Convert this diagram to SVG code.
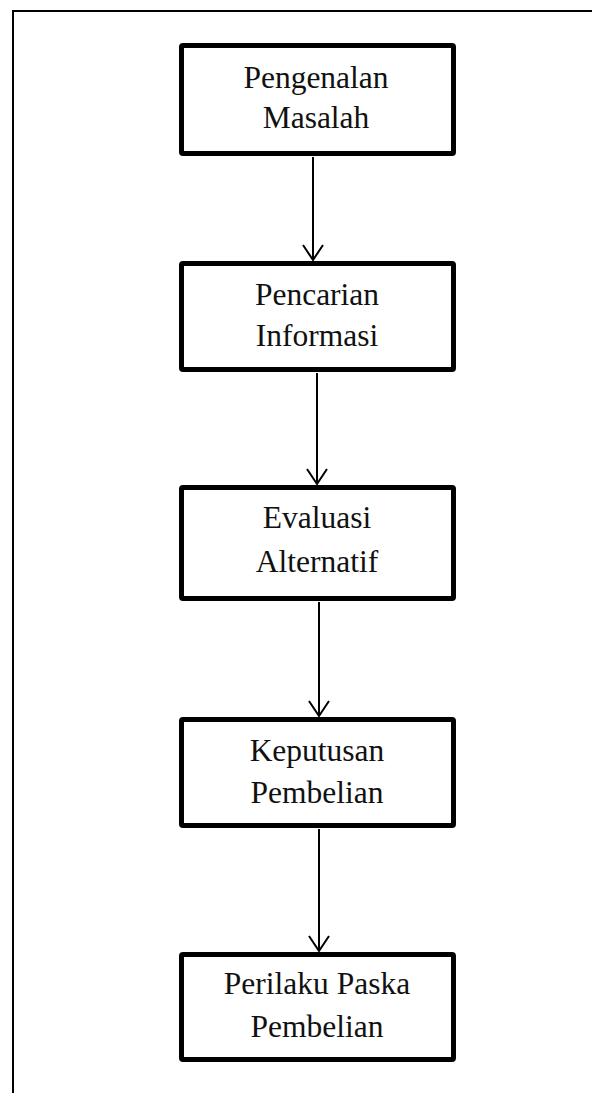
<svg xmlns="http://www.w3.org/2000/svg" width="592" height="1093" viewBox="0 0 592 1093">
<style>
.box{fill:#fff;stroke:#000;stroke-width:5}
.lbl{font-family:"Liberation Serif","Times New Roman",serif;font-size:31.5px;fill:#111;text-anchor:middle}
.conn{stroke:#000;stroke-width:2;fill:none}
.frame{stroke:#000;stroke-width:2;fill:none}
</style>
<defs>
<marker id="arr" markerUnits="userSpaceOnUse" markerWidth="40" markerHeight="40" refX="0" refY="0" orient="auto" overflow="visible">
<path d="M-15,-10 L0,0 L-15,10" fill="none" stroke="#000" stroke-width="2"/>
</marker>
</defs>
<rect width="592" height="1093" fill="#fff"/>
<path class="frame" d="M13,1093 L13,11 L592,11"/>
<g id="connectors">
<line class="conn" x1="313" y1="157" x2="313" y2="260" marker-end="url(#arr)"/>
<line class="conn" x1="317" y1="373" x2="317" y2="484" marker-end="url(#arr)"/>
<line class="conn" x1="319" y1="602" x2="319" y2="716" marker-end="url(#arr)"/>
<line class="conn" x1="319" y1="829" x2="319" y2="951" marker-end="url(#arr)"/>
</g>
<g id="node1">
<rect class="box" x="181.5" y="45.5" width="272" height="108" rx="1.5"/>
<text class="lbl" x="316" y="88">Pengenalan</text>
<text class="lbl" x="316" y="128">Masalah</text>
</g>
<g id="node2">
<rect class="box" x="181.5" y="263.5" width="272" height="106" rx="1.5"/>
<text class="lbl" x="317" y="305">Pencarian</text>
<text class="lbl" x="317" y="346">Informasi</text>
</g>
<g id="node3">
<rect class="box" x="181.5" y="487.5" width="272" height="111" rx="1.5"/>
<text class="lbl" x="317" y="528">Evaluasi</text>
<text class="lbl" x="317" y="572">Alternatif</text>
</g>
<g id="node4">
<rect class="box" x="181.5" y="719.5" width="272" height="106" rx="1.5"/>
<text class="lbl" x="317" y="761">Keputusan</text>
<text class="lbl" x="317" y="803">Pembelian</text>
</g>
<g id="node5">
<rect class="box" x="181.5" y="954.5" width="272" height="105" rx="1.5"/>
<text class="lbl" x="317" y="994">Perilaku Paska</text>
<text class="lbl" x="317" y="1037">Pembelian</text>
</g>
</svg>
